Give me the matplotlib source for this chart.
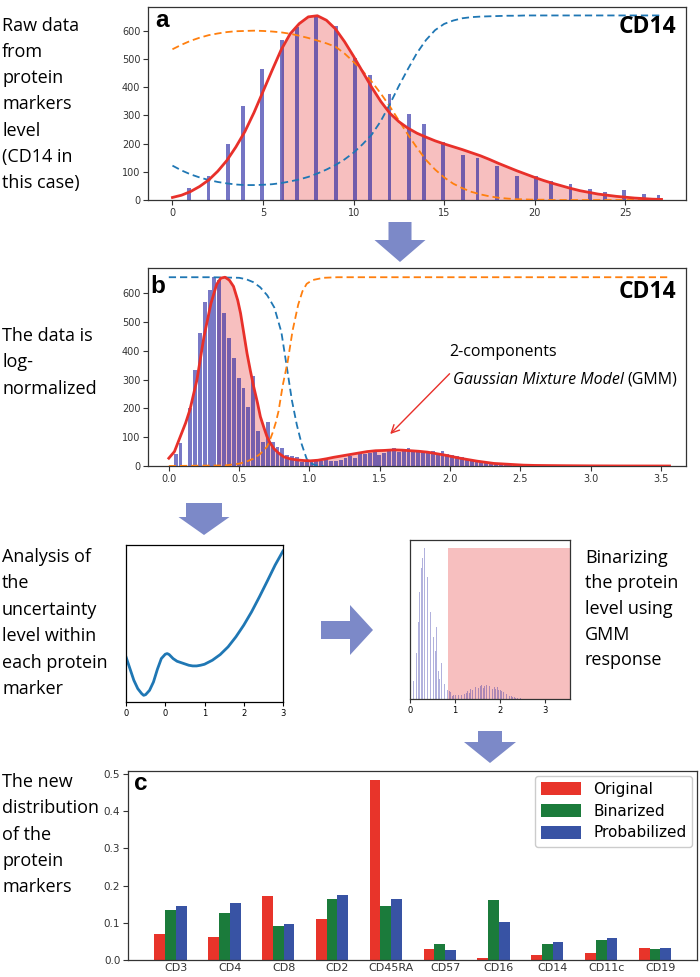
import numpy as np
import matplotlib
matplotlib.use("Agg")
import matplotlib.pyplot as plt
from matplotlib.patches import Polygon

# ---------------- data ----------------
# panel a: raw CD14 counts (histogram bins) and GMM curves
a_bin_left = [0.81, 1.89, 2.97, 3.78, 4.86, 5.94, 6.75, 7.83, 8.91, 9.99, 10.80, 11.88,
              12.96, 13.77, 14.85, 15.93, 16.74, 17.82, 18.90, 19.98, 20.79, 21.87,
              22.95, 23.76, 24.84, 25.92, 26.73]
a_counts = [41, 86, 199, 334, 464, 567, 613, 652, 617, 503, 443, 375, 304, 270, 205,
            161, 150, 121, 85, 85, 67, 57, 39, 30, 34, 21, 17]
a_x = np.arange(0, 27.5, 0.5)
a_gmm = [9, 17, 30, 48, 71, 102, 140, 188, 243, 310, 385, 460, 533, 590, 626, 650, 654,
         638, 607, 562, 510, 455, 400, 350, 308, 278, 255, 237, 223, 210, 199, 189, 179,
         168, 157, 144, 130, 117, 104, 92, 80, 69, 59, 50, 41, 33, 27, 21, 17, 13, 10,
         7, 5, 3, 2]
a_comp_low = [535, 551, 565, 576, 585, 591, 596, 599, 600, 601, 600, 598, 595, 590, 583,
              575, 566, 556, 544, 520, 490, 458, 420, 378, 332, 282, 232, 185, 142, 108,
              80, 58, 42, 29, 20, 13, 8, 5, 3, 2, 1, 1, 0, 0, 0, 0, 0, 0, 0, 0, 0, 0, 0,
              0, 0]
a_comp_high = [122, 105, 91, 80, 71, 64, 59, 55, 53, 53, 54, 56, 60, 66, 73, 82, 94, 108,
               124, 144, 168, 198, 232, 280, 340, 405, 465, 522, 568, 603, 625, 637, 645,
               649, 651, 652, 653, 654, 654, 655, 655, 655, 655, 655, 655, 655, 655, 655,
               655, 655, 655, 655, 655, 655, 655]
a_fill_start = 6.0

# panel b: log-normalized CD14 histogram (bin width 0.0345) and GMM curves
b_bin_width = 0.0345
b_counts = [0, 41, 80, 0, 200, 334, 463, 569, 612, 655, 645, 530, 444, 376, 305, 270,
            206, 312, 122, 85, 154, 85, 67, 61, 38, 36, 32, 15, 18, 17, 20, 18, 23, 19,
            16, 22, 27, 35, 27, 44, 41, 46, 50, 38, 46, 55, 62, 48, 58, 62, 50, 57, 53,
            45, 52, 44, 53, 40, 38, 33, 30, 26, 22, 19, 15, 12, 10, 8, 6, 5, 4, 3, 2, 2,
            1, 1, 1, 0, 1, 0, 0, 0, 0, 0, 0, 0, 0, 0, 0, 0, 0, 0, 0, 0, 0, 0, 0, 0, 0,
            0, 0, 0, 0, 1]
b_gmm_x = [0.0, 0.04, 0.08, 0.12, 0.15, 0.2, 0.25, 0.3, 0.34, 0.37, 0.40, 0.43, 0.46,
           0.49, 0.51, 0.53, 0.556, 0.58, 0.603, 0.63, 0.651, 0.675, 0.698, 0.72, 0.746,
           0.78, 0.817, 0.86, 0.912, 0.96, 1.006, 1.06, 1.12, 1.17, 1.23, 1.29, 1.35,
           1.41, 1.47, 1.53, 1.6, 1.66, 1.72, 1.78, 1.84, 1.9, 1.96, 2.02, 2.07, 2.13,
           2.19, 2.25, 2.31, 2.38, 2.45, 2.52, 2.6, 2.7, 2.83, 3.0, 3.2, 3.56]
b_gmm_y = [27, 50, 100, 150, 195, 299, 449, 565, 630, 652, 655, 645, 623, 575, 530, 470,
           391, 330, 276, 220, 171, 135, 102, 80, 61, 45, 32, 25, 21, 19, 18, 20, 25, 30,
           35, 40, 45, 50, 53, 54, 56, 55, 53, 51, 48, 43, 38, 32, 27, 22, 17, 13, 9, 7,
           5, 3, 2, 1.5, 1, 0.5, 0.2, 0]
b_high_x = [0.0, 0.3, 0.5, 0.55, 0.6, 0.65, 0.7, 0.75, 0.8, 0.84, 0.875, 0.91, 0.945,
            0.98, 1.0, 1.04, 1.1]
b_high_y = [655, 655, 653, 648, 638, 620, 592, 550, 465, 340, 228, 143, 75, 25, 12, 3, 0]
b_low_x = [0.0, 0.4, 0.5, 0.55, 0.6, 0.65, 0.7, 0.72, 0.74, 0.76, 0.78, 0.81, 0.845,
           0.88, 0.92, 0.95, 0.98, 1.02, 1.1, 1.2, 3.56]
b_low_y = [0, 2, 8, 15, 25, 42, 68, 92, 118, 150, 190, 280, 362, 470, 560, 606, 632,
           645, 653, 655, 655]
b_fill_start = 0.34

# uncertainty curve
u_x = [-1.0, -0.9, -0.8, -0.7, -0.6, -0.55, -0.5, -0.4, -0.3, -0.2, -0.1, 0.0, 0.05,
       0.1, 0.2, 0.3, 0.4, 0.5, 0.6, 0.7, 0.8, 0.9, 1.0, 1.2, 1.4, 1.6, 1.8, 2.0, 2.2,
       2.4, 2.6, 2.8, 3.0]
u_y = [135, 100, 65, 40, 25, 20, 22, 35, 60, 98, 130, 143, 145, 142, 130, 122, 118, 114,
       110, 108, 108, 110, 113, 125, 142, 165, 195, 230, 270, 315, 362, 410, 452]
u_ticks = [-1, 0, 1, 2, 3]
u_ticklabels = ["0", "0", "1", "2", "3"]

# binarization threshold
bin_threshold = 0.85
b_xmax = 3.56

# panel c
markers = ["CD3", "CD4", "CD8", "CD2", "CD45RA", "CD57", "CD16", "CD14", "CD11c", "CD19"]
original = [0.069, 0.063, 0.171, 0.110, 0.485, 0.029, 0.005, 0.013, 0.018, 0.033]
binarized = [0.135, 0.127, 0.092, 0.163, 0.146, 0.043, 0.162, 0.043, 0.054, 0.029]
probabilized = [0.145, 0.152, 0.096, 0.175, 0.164, 0.026, 0.101, 0.048, 0.058, 0.031]

# ---------------- styling ----------------
W, H = 700, 977
fig = plt.figure(figsize=(W / 100, H / 100), dpi=100)
TXT = ["Open Sans", "DejaVu Sans"]
BOLD = ["Liberation Sans", "DejaVu Sans"]
BAR = "#2020a0"
RED = "#e8302a"
PINK = "lightcoral"
ORANGE = "#ff7f0e"
BLUE = "#1f77b4"
ARROW = "#7c89c8"
SPINE = "#333333"


def px_axes(x0, y0, x1, y1):
    return fig.add_axes([x0 / W, 1 - y1 / H, (x1 - x0) / W, (y1 - y0) / H])


def ftext(x, y, s, **kw):
    return fig.text(x / W, 1 - y / H, s, **kw)


def style(ax, size=7):
    for sp in ax.spines.values():
        sp.set_color(SPINE)
        sp.set_linewidth(0.9)
    ax.tick_params(labelsize=size, length=3.5, width=0.8, color=SPINE, labelcolor="#333333",
                   pad=2)


def lines(x, ys, lines_, spacing, size=13, **kw):
    for i, s in enumerate(lines_):
        ftext(x, ys + i * spacing, s, fontsize=size, family=TXT, va="baseline", **kw)


# ---------- panel a ----------
axa = px_axes(148, 7, 686, 200)
style(axa)
ax_x = np.asarray(a_x)
mask = ax_x >= a_fill_start
axa.fill_between(ax_x[mask], np.asarray(a_gmm)[mask], color=PINK, alpha=0.5, lw=0, zorder=2)
axa.bar(a_bin_left, a_counts, width=0.21, align="edge", color=BAR, alpha=0.62, lw=0, zorder=3)
axa.plot(a_x, a_comp_low, color=ORANGE, lw=1.3, ls=(0, (4, 2.2)), zorder=4)
axa.plot(a_x, a_comp_high, color=BLUE, lw=1.3, ls=(0, (4, 2.2)), zorder=4)
axa.plot(a_x, a_gmm, color=RED, lw=2, zorder=5)
axa.set_xlim(-1.35, 28.35)
axa.set_ylim(0, 685)
axa.set_xticks([0, 5, 10, 15, 20, 25])
axa.set_yticks(range(0, 700, 100))
ftext(155, 27, "a", fontsize=17.5, fontweight="bold", family=BOLD, va="baseline")
ftext(676, 33, "CD14", fontsize=16.5, fontweight="bold", family=TXT, va="baseline", ha="right")

# ---------- panel b ----------
axb = px_axes(148, 268, 686, 466)
style(axb)
gx = np.asarray(b_gmm_x)
gy = np.asarray(b_gmm_y)
m = gx >= b_fill_start
axb.fill_between(gx[m], gy[m], color=PINK, alpha=0.5, lw=0, zorder=2)
b_left = np.arange(len(b_counts)) * b_bin_width
axb.bar(b_left, b_counts, width=b_bin_width * 0.8, align="edge", color=BAR, alpha=0.6,
        lw=0, zorder=3)
axb.plot(b_high_x, b_high_y, color=BLUE, lw=1.3, ls=(0, (4, 2.2)), zorder=4)
axb.plot(b_low_x, b_low_y, color=ORANGE, lw=1.3, ls=(0, (4, 2.2)), zorder=4)
axb.plot(b_gmm_x, b_gmm_y, color=RED, lw=2, zorder=5)
axb.set_xlim(-0.148, 3.677)
axb.set_ylim(0, 687)
axb.set_xticks(np.arange(0, 3.51, 0.5))
axb.set_yticks(range(0, 700, 100))
ftext(150, 293, "b", fontsize=17.5, fontweight="bold", family=BOLD, va="baseline")
ftext(676, 298, "CD14", fontsize=16.5, fontweight="bold", family=TXT, va="baseline", ha="right")
ftext(449, 356, "2-components", fontsize=11.5, family=TXT, va="baseline")
t1 = ftext(453, 384, "Gaussian Mixture Model", fontsize=11.5, family=TXT, va="baseline",
           style="italic")
axb.annotate("", xy=(1.56, 104), xytext=(2.01, 327),
             arrowprops=dict(arrowstyle="->", color=RED, lw=1.0, mutation_scale=14))
fig.canvas.draw()
bb = t1.get_window_extent()
fig.text((bb.x1 + 3) / W, 1 - 384 / H, "(GMM)", fontsize=11.5, family=TXT, va="baseline")

# ---------- mini left ----------
axu = px_axes(126, 545, 283, 702)
for sp in axu.spines.values():
    sp.set_color("black")
    sp.set_linewidth(0.9)
axu.plot(u_x, u_y, color=BLUE, lw=2)
axu.set_xlim(-1, 3)
axu.set_ylim(0, 470)
axu.set_yticks([])
axu.set_xticks(u_ticks)
axu.set_xticklabels(u_ticklabels)
axu.tick_params(labelsize=6, length=3, pad=2)

# ---------- mini right ----------
axr = px_axes(410, 540, 570, 699)
for sp in axr.spines.values():
    sp.set_color(SPINE)
    sp.set_linewidth(0.9)
axr.fill_between([bin_threshold, b_xmax], 0, max(b_counts), color=PINK, alpha=0.5, lw=0,
                 zorder=1)
axr.bar(b_left, b_counts, width=b_bin_width * 0.5, align="edge", color=BAR, alpha=0.35,
        lw=0, zorder=2)
axr.set_xlim(0, b_xmax)
axr.set_ylim(0, 688)
axr.set_yticks([])
axr.set_xticks([0, 1, 2, 3])
axr.tick_params(labelsize=6, length=3, pad=2, color=SPINE)

# ---------- panel c ----------
axc = px_axes(128, 771, 697, 960)
style(axc, size=7.5)
xc = np.arange(len(markers))
axc.bar(xc - 0.3, original, width=0.2, color="#e8342a", label="Original")
axc.bar(xc - 0.1, binarized, width=0.2, color="#1b7b3b", label="Binarized")
axc.bar(xc + 0.1, probabilized, width=0.2, color="#3853a4", label="Probabilized")
axc.set_xlim(-0.89, 9.68)
axc.set_ylim(0, 0.508)
axc.set_xticks(xc)
axc.set_xticklabels(markers, fontsize=8)
axc.tick_params(axis="x", length=0)
axc.set_yticks(np.arange(0, 0.51, 0.1))
axc.legend(loc="upper right", fontsize=11, handlelength=2.6, handleheight=0.9,
           borderaxespad=0.3, labelspacing=0.45, framealpha=1, edgecolor="#cccccc")
ftext(134, 790, "c", fontsize=17.5, fontweight="bold", family=BOLD, va="baseline")

# ---------- left / side texts ----------
lines(2, 30.7, ["Raw data", "from", "protein", "markers", "level", "(CD14 in", "this case)"], 26.2)
lines(2, 340.7, ["The data is", "log-", "normalized"], 26.6)
lines(2, 561.7, ["Analysis of", "the", "uncertainty", "level within", "each protein", "marker"], 26.5)
lines(585, 562.7, ["Binarizing", "the protein", "level using", "GMM", "response"], 25.6)
lines(2, 787.3, ["The new", "distribution", "of the", "protein", "markers"], 26.1)


# ---------- block arrows ----------
def down_arrow(cx, y0, yneck, ytip, sw, hw):
    pts = [(cx - sw / 2, y0), (cx + sw / 2, y0), (cx + sw / 2, yneck), (cx + hw / 2, yneck),
           (cx, ytip), (cx - hw / 2, yneck), (cx - sw / 2, yneck)]
    fig.add_artist(Polygon([(x / W, 1 - y / H) for x, y in pts], closed=True,
                           transform=fig.transFigure, color=ARROW, lw=0))


def right_arrow(cy, x0, xneck, xtip, sh, hh):
    pts = [(x0, cy - sh / 2), (xneck, cy - sh / 2), (xneck, cy - hh / 2), (xtip, cy),
           (xneck, cy + hh / 2), (xneck, cy + sh / 2), (x0, cy + sh / 2)]
    fig.add_artist(Polygon([(x / W, 1 - y / H) for x, y in pts], closed=True,
                           transform=fig.transFigure, color=ARROW, lw=0))


down_arrow(400, 222, 240, 262, 23, 51)
down_arrow(204, 503, 517, 535, 36, 51)
right_arrow(630, 321, 350, 373, 18, 50)
down_arrow(490, 731, 742, 763, 24, 52)

fig.savefig("out.png", dpi=100)
